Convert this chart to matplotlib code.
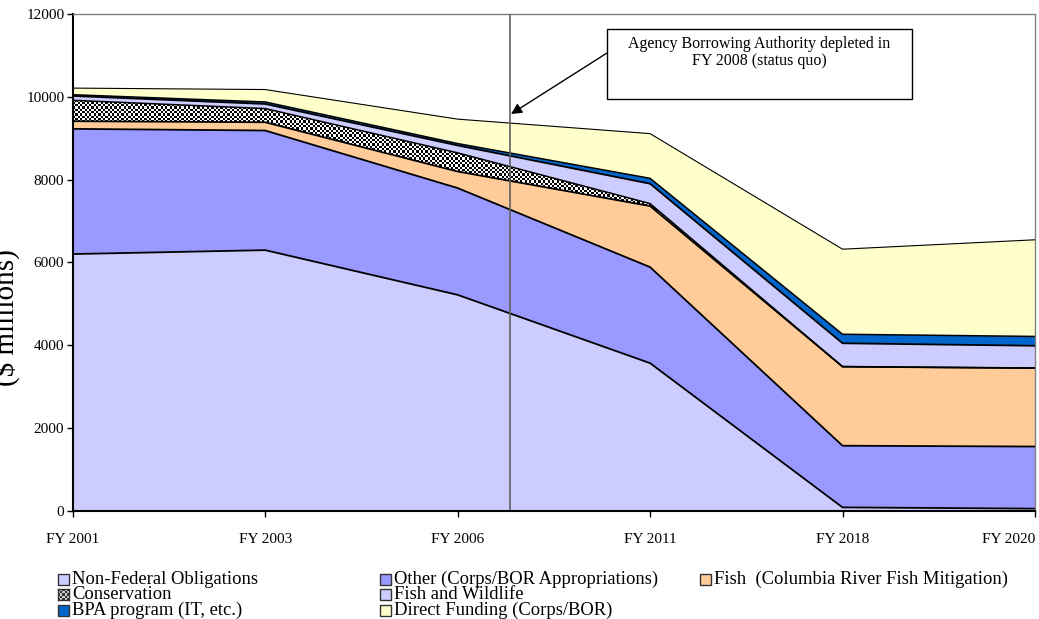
import numpy as np
import matplotlib
matplotlib.use("Agg")
import matplotlib.pyplot as plt
from matplotlib.patches import Rectangle

plt.rcParams['font.family'] = ['Liberation Serif', 'DejaVu Serif']

# ---------------- data ----------------
categories = ['FY 2001', 'FY 2003', 'FY 2006', 'FY 2011', 'FY 2018', 'FY 2020']
non_federal = [6200, 6295, 5215, 3565, 80, 50]
other = [3025, 2890, 2580, 2320, 1490, 1500]
fish = [185, 200, 400, 1475, 1910, 1895]
conservation = [505, 330, 450, 60, 0, 0]
fish_wildlife = [105, 112, 180, 480, 565, 540]
bpa_program = [30, 48, 45, 130, 218, 225]
direct_funding = [160, 300, 590, 1080, 2055, 2335]

series_names = ['Non-Federal Obligations', 'Other (Corps/BOR Appropriations)',
                'Fish  (Columbia River Fish Mitigation)', 'Conservation',
                'Fish and Wildlife', 'BPA program (IT, etc.)', 'Direct Funding (Corps/BOR)']
series_values = [non_federal, other, fish, conservation, fish_wildlife, bpa_program, direct_funding]
series_colors = ['#CCCCFF', '#9999FF', '#FFCC99', 'checker', '#CCCCFF', '#0066CC', '#FFFFCC']
edge_widths = [1.3, 1.3, 1.3, 1.1, 1.3, 1.1, 0.8]

y_ticks = [0, 2000, 4000, 6000, 8000, 10000, 12000]
marker_position = 2.27  # FY 2008 line (between FY 2006 and FY 2011 categories)
annotation_text = 'Agency Borrowing Authority depleted in\nFY 2008 (status quo)'
y_label = '($ millions)'

# ---------------- figure ----------------
W, H = 1039, 619
fig = plt.figure(figsize=(W / 100, H / 100), dpi=100)
ax_l, ax_r, ax_t, ax_b = 72.7, 1035.0, 14.0, 510.7
ax = fig.add_axes([ax_l / W, 1 - ax_b / H, (ax_r - ax_l) / W, (ax_b - ax_t) / H])

x = np.arange(len(categories))
base = np.zeros(len(categories))
checker_cell = 2.3
nr = int((ax_b - ax_t) / checker_cell)
nc = int((ax_r - ax_l) / checker_cell)
checker = (np.add.outer(np.arange(nr), np.arange(nc)) % 2).astype(float)

tops = []
for vals, col in zip(series_values, series_colors):
    top = base + np.array(vals, dtype=float)
    if col == 'checker':
        poly = ax.fill_between(x, base, top, facecolor='white', edgecolor='none', zorder=1)
        im = ax.imshow(checker, cmap='gray', vmin=0, vmax=1, extent=[0, 5, 0, 12000],
                       aspect='auto', interpolation='nearest', zorder=1.5)
        im.set_clip_path(poly.get_paths()[0], ax.transData)
    else:
        ax.fill_between(x, base, top, facecolor=col, edgecolor='none', zorder=1)
    tops.append(top)
    base = top

for top, lw in zip(tops, edge_widths):
    ax.plot(x, top, color='black', lw=lw, zorder=3, solid_joinstyle='miter')

ax.set_xlim(0, len(categories) - 1)
ax.set_ylim(0, 12000)
ax.set_yticks(y_ticks)
ax.set_yticklabels([str(v) for v in y_ticks], fontsize=11)
ax.set_xticks(x)
ax.set_xticklabels(categories, fontsize=11)
labels = ax.get_xticklabels()
labels[-1].set_horizontalalignment('right')
ax.tick_params(axis='x', direction='out', length=4, width=1, pad=12)
ax.tick_params(axis='y', direction='out', length=4, width=1, pad=2)

for s in ['left', 'bottom']:
    ax.spines[s].set_color('black')
    ax.spines[s].set_linewidth(1.5)
for s in ['top', 'right']:
    ax.spines[s].set_color('#808080')
    ax.spines[s].set_linewidth(1.0)
ax.spines['bottom'].set_zorder(4)

# vertical marker line
ax.axvline(marker_position, color='#606060', lw=1.2, zorder=4)

# annotation box
def axf(px, py):
    return ((px - ax_l) / (ax_r - ax_l), (ax_b - py) / (ax_b - ax_t))

bx0, by0 = axf(607, 99)
bx1, by1 = axf(912, 29)
ax.add_patch(Rectangle((bx0, by0), bx1 - bx0, by1 - by0, transform=ax.transAxes,
                       facecolor='white', edgecolor='black', lw=1.0, zorder=5, clip_on=False))
tx, ty = axf(759.5, 36)
ax.text(tx, ty, annotation_text, transform=ax.transAxes, ha='center', va='top',
        fontsize=11.5, linespacing=1.1, zorder=6)
sx, sy = axf(607, 53)
ex, ey = axf(511, 114)
ax.annotate('', xy=(ex, ey), xycoords='axes fraction', xytext=(sx, sy),
            textcoords='axes fraction',
            arrowprops=dict(arrowstyle='-|>', color='black', lw=1.0, mutation_scale=16,
                            shrinkA=0, shrinkB=0), zorder=6)

# y label
fig.text(6 / W, 1 - 318 / H, y_label, rotation=90, ha='center', va='center', fontsize=21)

# ---------------- legend (row-major, 3 columns) ----------------
legend_cols = [58, 380, 700]
legend_rows = [579, 594.5, 610]
legend_order = [0, 1, 2, 3, 4, 5, 6]
sq = 11
for k, idx in enumerate(legend_order):
    r, c = divmod(k, 3)
    if k >= 3:
        r, c = 1 + (k - 3) // 2, (k - 3) % 2
    px, py = legend_cols[c], legend_rows[r]
    col = series_colors[idx]
    if col == 'checker':
        lax = fig.add_axes([px / W, 1 - (py + sq / 2) / H, sq / W, sq / H])
        lax.imshow((np.add.outer(np.arange(5), np.arange(5)) % 2) * 0.6 + 0.2,
                   cmap='gray', vmin=0, vmax=1, interpolation='nearest', aspect='auto')
        lax.set_xticks([]); lax.set_yticks([])
        for s in lax.spines.values():
            s.set_color('#333333'); s.set_linewidth(1.0)
    else:
        fig.patches.append(Rectangle((px / W, 1 - (py + sq / 2) / H), sq / W, sq / H,
                                     transform=fig.transFigure, facecolor=col,
                                     edgecolor='#333333', lw=1.0))
    fig.text((px + sq + 3) / W, 1 - py / H, series_names[idx], ha='left', va='center',
             fontsize=13.4)

fig.savefig('out.png', dpi=100)
